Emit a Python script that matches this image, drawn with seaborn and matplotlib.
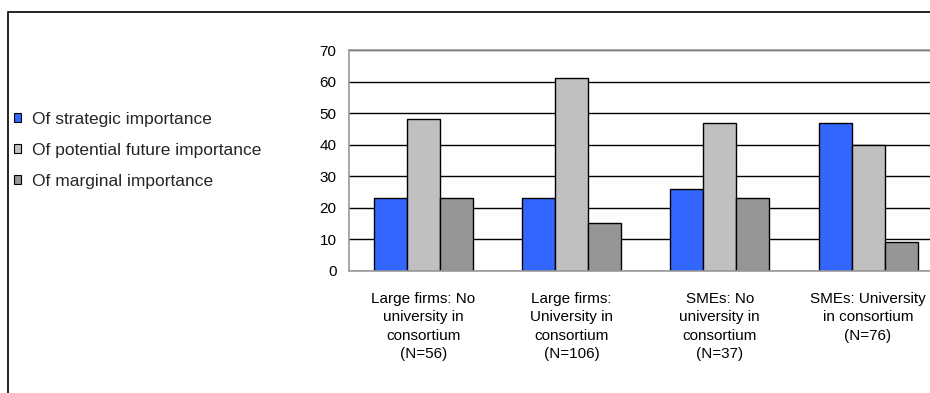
import matplotlib
matplotlib.use("Agg")
import matplotlib.pyplot as plt
from matplotlib.patches import Rectangle, Patch
import seaborn as sns
import pandas as pd

categories = [
    "Large firms: No\nuniversity in\nconsortium\n(N=56)",
    "Large firms:\nUniversity in\nconsortium\n(N=106)",
    "SMEs: No\nuniversity in\nconsortium\n(N=37)",
    "SMEs: University\nin consortium\n(N=76)",
]
series_names = [
    "Of strategic importance",
    "Of potential future importance",
    "Of marginal importance",
]
strategic = [23, 23, 26, 47]
potential = [48, 61, 47, 40]
marginal = [23, 15, 23, 9]
colors = ["#3366FF", "#C0C0C0", "#969696"]
y_ticks = [0, 10, 20, 30, 40, 50, 60, 70]

rows = []
for name, vals in zip(series_names, [strategic, potential, marginal]):
    for cat, v in zip(categories, vals):
        rows.append({"category": cat, "series": name, "value": v})
df = pd.DataFrame(rows)

sns.set_style("white")
plt.rcParams["font.family"] = ["Liberation Sans", "DejaVu Sans"]

fig = plt.figure(figsize=(9.3, 3.93), dpi=100)
ax = fig.add_axes([349 / 930, 1 - 270.7 / 393, 593.2 / 930, 220.7 / 393])

sns.barplot(
    data=df, x="category", y="value", hue="series",
    order=categories, hue_order=series_names, palette=colors,
    width=0.667, edgecolor="black", linewidth=1.0, saturation=1.0,
    legend=False, ax=ax,
)

ax.set_xlim(-0.5, 3.5)
ax.set_ylim(0, 70)
ax.set_yticks(y_ticks)
ax.set_axisbelow(True)
ax.yaxis.grid(True, color="black", linewidth=1.0)
ax.xaxis.grid(False)
for side in ["left", "bottom", "top", "right"]:
    ax.spines[side].set_visible(True)
    ax.spines[side].set_color("#999999")
    ax.spines[side].set_linewidth(1.2)
ax.set_xlabel("")
ax.set_ylabel("")
ax.tick_params(axis="y", length=0, pad=9, labelsize=11, colors="black")
ax.tick_params(axis="x", length=0, pad=15, labelsize=11, colors="black")
for lab in ax.get_xticklabels():
    lab.set_linespacing(1.42)
    lab.set_verticalalignment("top")

handles = [Patch(facecolor=c, edgecolor="black", linewidth=0.8) for c in colors]
fig.legend(
    handles, series_names, loc="upper left",
    bbox_to_anchor=(14 / 930, 1 - 112 / 393), frameon=False,
    fontsize=12.5, handlelength=0.42, handleheight=0.42, handletextpad=0.6,
    labelspacing=0.92, borderaxespad=0, borderpad=0,
)

frame = Rectangle((7.5 / 930, -0.2), 1.2, 1.2 - 12 / 393, transform=fig.transFigure,
                  fill=False, edgecolor="black", linewidth=1.2)
fig.add_artist(frame)

fig.savefig("out.png", dpi=100)
